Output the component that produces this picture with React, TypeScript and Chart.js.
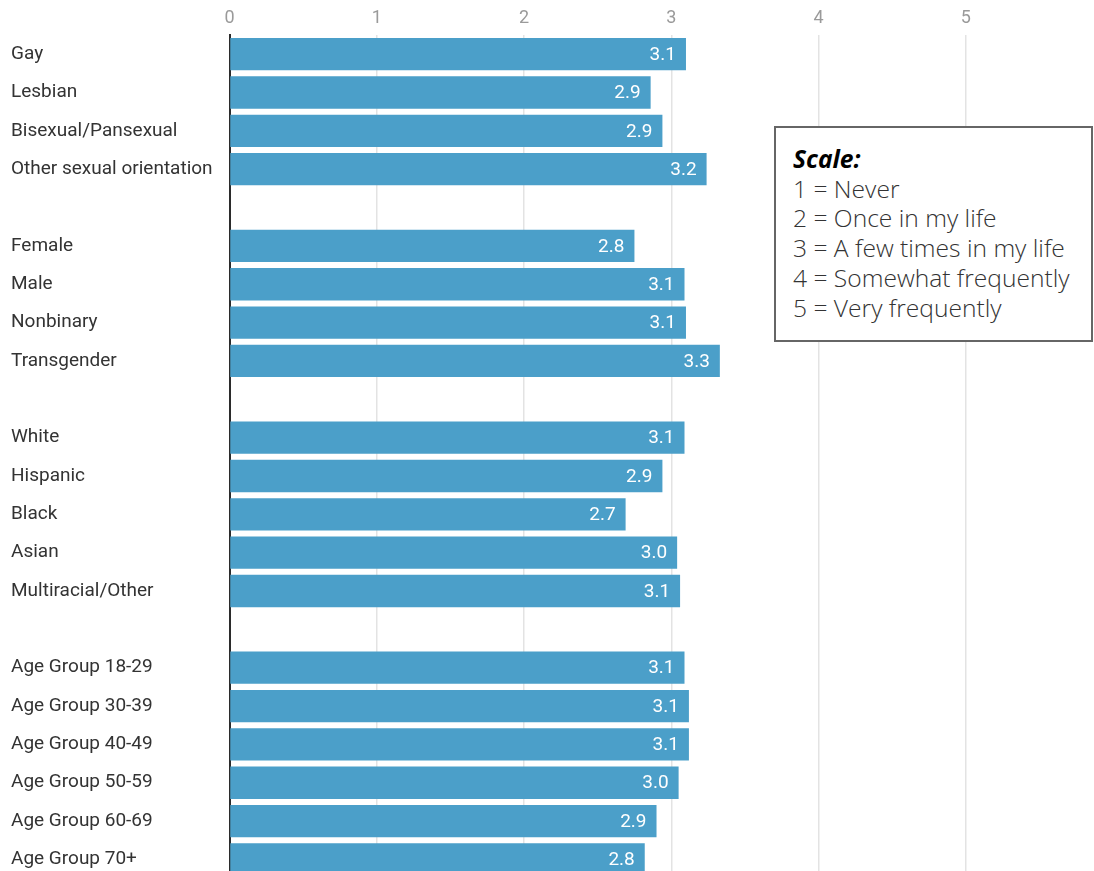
import React, { useEffect, useRef } from "react";
import { Chart, registerables } from "chart.js";

Chart.register(...registerables);

const categories: string[] = [
  "Gay",
  "Lesbian",
  "Bisexual/Pansexual",
  "Other sexual orientation",
  "",
  "Female",
  "Male",
  "Nonbinary",
  "Transgender",
  " ",
  "White",
  "Hispanic",
  "Black",
  "Asian",
  "Multiracial/Other",
  "  ",
  "Age Group 18-29",
  "Age Group 30-39",
  "Age Group 40-49",
  "Age Group 50-59",
  "Age Group 60-69",
  "Age Group 70+",
];

const values: (number | null)[] = [
  3.1, 2.86, 2.94, 3.24,
  null,
  2.75, 3.09, 3.1, 3.33,
  null,
  3.09, 2.94, 2.69, 3.04, 3.06,
  null,
  3.09, 3.12, 3.12, 3.05, 2.9, 2.82,
];

const valueLabels: string[] = [
  "3.1", "2.9", "2.9", "3.2",
  "",
  "2.8", "3.1", "3.1", "3.3",
  "",
  "3.1", "2.9", "2.7", "3.0", "3.1",
  "",
  "3.1", "3.1", "3.1", "3.0", "2.9", "2.8",
];

const xTicks: number[] = [0, 1, 2, 3, 4, 5, 6];

const scaleTitle = "Scale:";
const scaleLines: string[] = [
  "1 = Never",
  "2 = Once in my life",
  "3 = A few times in my life",
  "4 = Somewhat frequently",
  "5 = Very frequently",
];

const valueLabelPlugin = {
  id: "valueLabels",
  afterDatasetsDraw(chart: any) {
    const ctx = chart.ctx;
    const meta = chart.getDatasetMeta(0);
    ctx.save();
    ctx.fillStyle = "#ffffff";
    ctx.font = "19px Roboto";
    ctx.textAlign = "right";
    ctx.textBaseline = "middle";
    meta.data.forEach((bar: any, i: number) => {
      const v = values[i];
      if (v === null || v === undefined) return;
      ctx.fillText(valueLabels[i], bar.x - 10, bar.y + 1);
    });
    ctx.restore();
  },
};

export default function App() {
  const canvasRef = useRef<HTMLCanvasElement | null>(null);

  useEffect(() => {
    if (!canvasRef.current) return;
    const chart = new Chart(canvasRef.current, {
      type: "bar",
      data: {
        labels: categories,
        datasets: [
          {
            data: values as any,
            backgroundColor: "#4b9fc9",
            borderWidth: 0,
            categoryPercentage: 1,
            barPercentage: 0.843,
          },
        ],
      },
      options: {
        indexAxis: "y",
        responsive: false,
        animation: false,
        layout: { padding: { left: 11, top: 2, right: 0, bottom: 0 } },
        plugins: {
          legend: { display: false },
          tooltip: { enabled: false },
        },
        scales: {
          x: {
            position: "top",
            min: 0,
            max: 6,
            afterBuildTicks: (scale: any) => {
              scale.ticks = xTicks.map((v) => ({ value: v }));
            },
            afterFit: (scale: any) => {
              scale.height = 33;
            },
            ticks: {
              stepSize: 1,
              color: "#9a9a9a",
              font: { family: "Roboto", size: 18 },
              padding: 6,
              callback: (v: any) => (v === 6 ? "" : String(v)),
            },
            grid: {
              color: "#e3e3e3",
              lineWidth: 1.5,
              drawTicks: false,
            },
            border: { display: false },
          },
          y: {
            afterFit: (scale: any) => {
              scale.width = 218.5;
            },
            ticks: {
              color: "#333333",
              font: { family: "Roboto", size: 19 },
              crossAlign: "far",
              padding: 0,
              autoSkip: false,
            },
            grid: { display: false, drawTicks: false },
            border: { display: true, color: "#2b2b2b", width: 2 },
          },
        },
      },
      plugins: [valueLabelPlugin],
    });
    return () => chart.destroy();
  }, []);

  return (
    <div
      style={{
        position: "fixed",
        left: 0,
        top: 0,
        width: 1094,
        height: 871,
        overflow: "hidden",
        background: "#ffffff",
      }}
    >
      <canvas
        ref={canvasRef}
        width={1119}
        height={890}
        style={{ position: "absolute", left: 0, top: 0, width: 1119, height: 890 }}
      />
      <div
        style={{
          position: "absolute",
          left: 774,
          top: 126,
          width: 319,
          height: 216,
          boxSizing: "border-box",
          border: "2px solid #666666",
          background: "#ffffff",
          padding: "16px 0 0 17px",
          fontFamily: "'Open Sans', sans-serif",
          fontSize: 24.6,
          fontWeight: 300,
          lineHeight: "29.7px",
          color: "#333333",
          whiteSpace: "nowrap",
        }}
      >
        <div style={{ fontWeight: 700, fontStyle: "italic", color: "#000000" }}>{scaleTitle}</div>
        {scaleLines.map((l) => (
          <div key={l}>{l}</div>
        ))}
      </div>
    </div>
  );
}
